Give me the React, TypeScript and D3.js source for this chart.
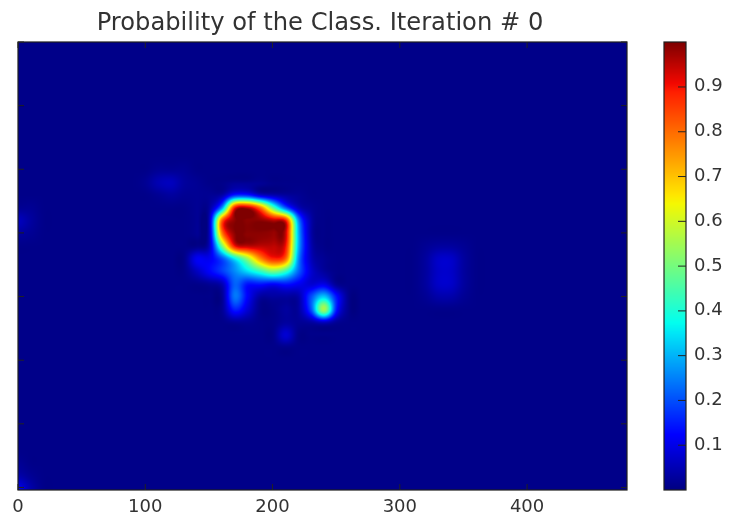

import React, { useMemo } from "react";
import * as d3 from "d3";

const W = 730, H = 516;
const TITLE = "Probability of the Class. Iteration # 0";
const xTicks = [0, 100, 200, 300, 400];
const yTicks = [0, 50, 100, 150, 200, 250, 300, 350];
const cbTicks = [0.1, 0.2, 0.3, 0.4, 0.5, 0.6, 0.7, 0.8, 0.9];
const jetStops = [0, 0.11, 0.125, 0.35, 0.375, 0.64, 0.66, 0.89, 0.91, 1];
const jetColors = ["#00007f", "#0000f1", "#0000ff", "#00e5f7", "#02ffee", "#f4f802", "#ffe600", "#ff1e00", "#f10700", "#7f0000"];

const background = 1;
// probability (percent) sampled every 10 image units; col/row = first sample of each patch
const hotspotCol = 10, hotspotRow = 10;
const hotspotRows = [
  [1, 2, 2, 2, 1, 1, 1, 1, 1, 1, 1, 1, 1, 1, 1, 1, 1, 1],
  [2, 5, 6, 3, 2, 1, 1, 2, 2, 2, 1, 1, 1, 1, 1, 1, 1, 1],
  [1, 2, 3, 2, 2, 2, 4, 16, 16, 8, 5, 3, 2, 1, 1, 1, 1, 1],
  [1, 1, 1, 1, 2, 3, 28, 90, 96, 80, 48, 22, 6, 2, 1, 1, 1, 1],
  [1, 1, 1, 1, 2, 6, 82, 99, 99, 99, 96, 90, 26, 4, 1, 1, 1, 1],
  [1, 1, 1, 1, 2, 6, 78, 99, 99, 99, 98, 94, 30, 4, 1, 1, 1, 1],
  [1, 1, 1, 1, 1, 6, 50, 90, 95, 95, 95, 90, 30, 5, 1, 1, 1, 1],
  [1, 1, 1, 1, 11, 11, 20, 36, 54, 76, 88, 80, 26, 6, 2, 1, 1, 1],
  [1, 1, 1, 1, 6, 12, 18, 26, 34, 42, 50, 42, 22, 8, 3, 1, 1, 1],
  [1, 1, 1, 1, 1, 2, 5, 22, 14, 14, 12, 14, 11, 8, 10, 2, 1, 1],
  [1, 1, 1, 1, 1, 1, 2, 24, 12, 3, 3, 3, 4, 20, 33, 14, 1, 1],
  [1, 1, 1, 1, 1, 1, 2, 15, 8, 1, 1, 3, 3, 20, 55, 14, 1, 1],
  [1, 1, 1, 1, 1, 1, 1, 2, 2, 1, 1, 3, 2, 3, 6, 2, 1, 1],
  [1, 1, 1, 1, 1, 1, 1, 1, 1, 1, 1, 8, 1, 1, 1, 1, 1, 1],
];
const rightBlobCol = 31, rightBlobRow = 16;
const rightBlobRows = [
  [1, 2, 3, 3, 2, 1],
  [1, 3, 7, 7, 3, 1],
  [1, 3, 7, 7, 3, 1],
  [1, 3, 7, 7, 3, 1],
  [1, 2, 4, 4, 2, 1],
];
const leftBlobCol = 0, leftBlobRow = 13;
const leftBlobRows = [
  [2, 2, 1],
  [6, 3, 1],
  [3, 2, 1],
];
const cornerCol = 0, cornerRow = 33;
const cornerRows = [
  [2, 1, 1],
  [4, 2, 1],
  [10, 4, 1],
];

const nCols = 49, nRows = 36;

function buildGrid(): number[][] {
  const g = d3.range(nRows).map(() => d3.range(nCols).map(() => background));
  const put = (c: number, r: number, rows: number[][]) =>
    rows.forEach((row, j) => row.forEach((v, i) => { g[r + j][c + i] = v; }));
  put(hotspotCol, hotspotRow, hotspotRows);
  put(rightBlobCol, rightBlobRow, rightBlobRows);
  put(leftBlobCol, leftBlobRow, leftBlobRows);
  put(cornerCol, cornerRow, cornerRows);
  return g;
}

const cubic = (a: number, b: number, c: number, d: number, t: number) =>
  b + 0.5 * t * (c - a + t * (2 * a - 5 * b + 4 * c - d + t * (3 * (b - c) + d - a)));

function rasterise(w: number, h: number, color: (v: number) => string, value: (x: number, y: number) => number) {
  const cv = document.createElement("canvas");
  cv.width = w; cv.height = h;
  const ctx = cv.getContext("2d")!;
  const img = ctx.createImageData(w, h);
  for (let y = 0; y < h; y++) for (let x = 0; x < w; x++) {
    const c = d3.rgb(color(value(x, y)));
    const k = (y * w + x) * 4;
    img.data[k] = c.r; img.data[k + 1] = c.g; img.data[k + 2] = c.b; img.data[k + 3] = 255;
  }
  ctx.putImageData(img, 0, 0);
  return cv.toDataURL();
}

const plot = { l: 18, r: 627, t: 42, b: 490 };
const bar = { l: 664, r: 686, t: 42, b: 490 };
const ink = "#222";
const textColor = "#333";

export default function App() {
  const x = d3.scaleLinear().domain([0, 478.5]).range([plot.l, plot.r]);
  const y = d3.scaleLinear().domain([0, 352]).range([plot.t, plot.b]);
  const cb = d3.scaleLinear().domain([0, 1]).range([490, 42.2]);
  const jet = d3.scaleLinear<string>().domain(jetStops).range(jetColors).clamp(true);

  const [heat, ramp] = useMemo(() => {
    const g = buildGrid();
    const clampI = (v: number, m: number) => Math.max(0, Math.min(m, v));
    const sample = (dx: number, dy: number) => {
      const u = dx / 10, v = dy / 10;
      const i = Math.floor(u), j = Math.floor(v), tx = u - i, ty = v - j;
      const r = [-1, 0, 1, 2].map(m => {
        const row = g[clampI(j + m, nRows - 1)];
        return cubic(row[clampI(i - 1, nCols - 1)], row[clampI(i, nCols - 1)], row[clampI(i + 1, nCols - 1)], row[clampI(i + 2, nCols - 1)], tx);
      });
      return Math.max(0, Math.min(100, cubic(r[0], r[1], r[2], r[3], ty))) / 100;
    };
    const pw = plot.r - plot.l, ph = plot.b - plot.t;
    const a = rasterise(pw, ph, jet, (px, py) => sample(x.invert(px + plot.l), y.invert(py + plot.t)));
    const b = rasterise(1, bar.b - bar.t, jet, (_, py) => cb.invert(py + bar.t));
    return [a, b];
  }, []);

  const tick = { stroke: ink, strokeWidth: 1 };
  const label = { fontFamily: "DejaVu Sans", fontSize: 18, fill: textColor };

  return (
    <svg width={W} height={H} viewBox={`0 0 ${W} ${H}`} style={{ position: "absolute", left: 0, top: 0, background: "#fff" }}>
      <defs>
        <filter id="soft" x="-5%" y="-5%" width="110%" height="110%"><feGaussianBlur stdDeviation="0.35" /></filter>
      </defs>
      <image href={heat} x={plot.l} y={plot.t} width={plot.r - plot.l} height={plot.b - plot.t} preserveAspectRatio="none" />
      <image href={ramp} x={bar.l} y={bar.t} width={bar.r - bar.l} height={bar.b - bar.t} preserveAspectRatio="none" />
      <g filter="url(#soft)">
        {xTicks.map(t => (
          <g key={t}>
            <line x1={x(t)} x2={x(t)} y1={plot.b} y2={plot.b - 6} {...tick} />
            <line x1={x(t)} x2={x(t)} y1={plot.t} y2={plot.t + 6} {...tick} />
            <text x={x(t)} y={511.5} textAnchor="middle" {...label}>{t}</text>
          </g>
        ))}
        {yTicks.map(t => (
          <g key={t}>
            <line x1={plot.l} x2={plot.l + 6} y1={y(t)} y2={y(t)} {...tick} />
            <line x1={plot.r} x2={plot.r - 6} y1={y(t)} y2={y(t)} {...tick} />
          </g>
        ))}
        <rect x={plot.l} y={plot.t} width={plot.r - plot.l} height={plot.b - plot.t} fill="none" stroke={ink} strokeWidth={1.2} />
        <rect x={bar.l} y={bar.t} width={bar.r - bar.l} height={bar.b - bar.t} fill="none" stroke={ink} strokeWidth={1.2} />
        {cbTicks.map(t => (
          <g key={t}>
            <line x1={bar.r} x2={bar.r - 8} y1={cb(t)} y2={cb(t)} {...tick} />
            <text x={694} y={cb(t) + 4.5} {...label}>{t.toFixed(1)}</text>
          </g>
        ))}
        <text x={320} y={30} textAnchor="middle" fontFamily="DejaVu Sans" fontSize={24.2} fill={textColor}>{TITLE}</text>
      </g>
    </svg>
  );
}
